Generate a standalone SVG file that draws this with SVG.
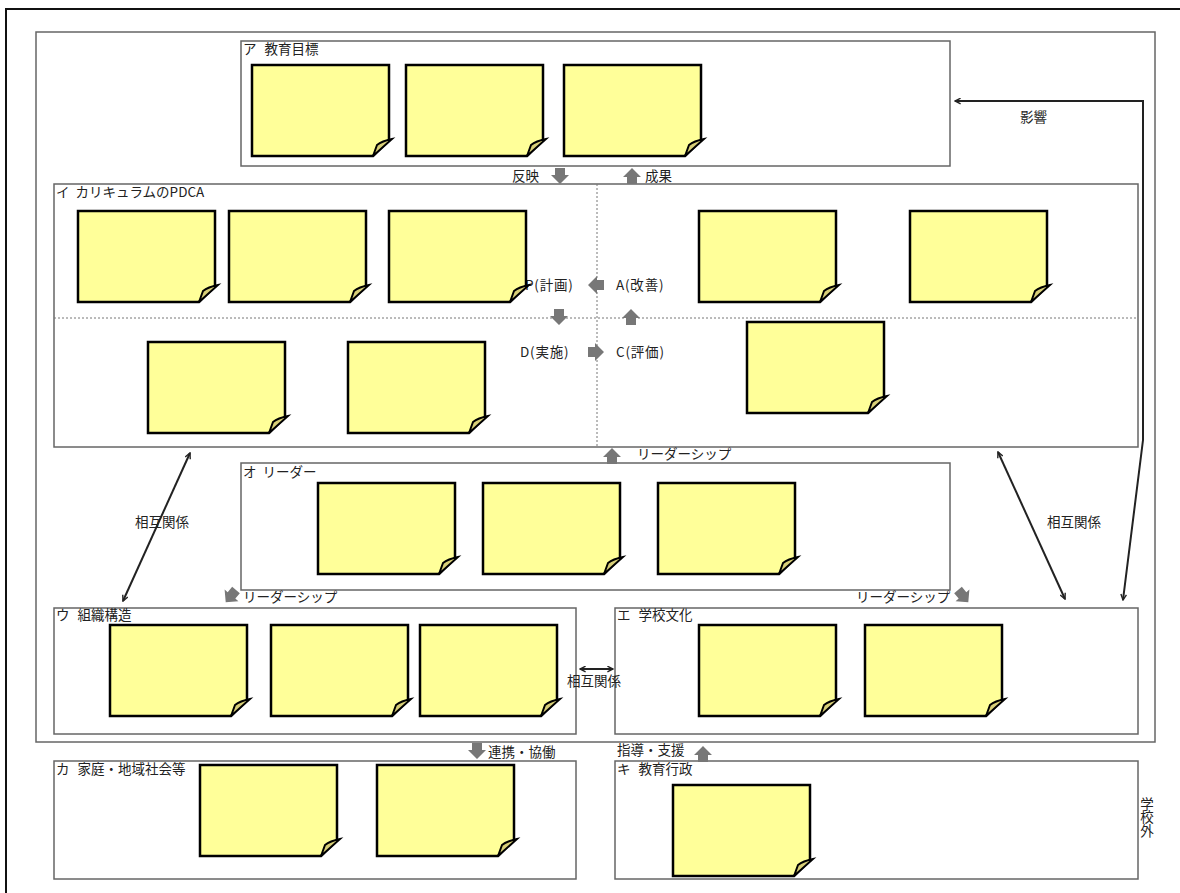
<svg xmlns="http://www.w3.org/2000/svg" xmlns:xlink="http://www.w3.org/1999/xlink" width="1180" height="893" viewBox="0 0 1180 893">
<style>
text{font-family:"Noto Sans CJK JP","Noto Sans",sans-serif;font-size:13.5px;fill:#222}
.box{fill:none;stroke:#666;stroke-width:1.5}
.dot{stroke:#777;stroke-width:1;stroke-dasharray:2 2;fill:none}
.conn{stroke:#222;stroke-width:2;fill:none}
.garr{fill:#777}
</style>
<defs>
<g id="sticky">
<path d="M0,0 H137 V75 L121,91 H0 Z" fill="#FFFF99" stroke="#000" stroke-width="2.5" stroke-linejoin="miter"/>
<path d="M121,91 L125,80 Q130,76 140,74 Z" fill="#D8CF78" stroke="#000" stroke-width="2"/>
</g>
<polygon id="adown" points="-5,0 5,0 5,7 9,7 0,16 -9,7 -5,7"/>
<marker id="ah" viewBox="0 0 10 10" refX="9" refY="5" markerWidth="7" markerHeight="7" orient="auto-start-reverse" markerUnits="userSpaceOnUse">
<path d="M1,1 L9,5 L1,9" fill="none" stroke="#222" stroke-width="2"/>
</marker>
</defs>

<rect x="6" y="9" width="1180" height="900" fill="#fff" stroke="#111" stroke-width="2"/>
<rect id="school" x="36" y="32" width="1119" height="710" class="box"/>

<g id="node-a">
<rect x="241" y="41" width="709" height="125" class="box"/>
<text x="243" y="54">ア<tspan dx="8">教育目標</tspan></text>
<use xlink:href="#sticky" x="252" y="65"/>
<use xlink:href="#sticky" x="406" y="65"/>
<use xlink:href="#sticky" x="564" y="65"/>
</g>

<g id="node-i">
<rect x="54" y="184" width="1084" height="263" class="box"/>
<line x1="597" y1="184" x2="597" y2="447" class="dot"/>
<line x1="54" y1="318" x2="1138" y2="318" class="dot"/>
<text x="56" y="197">イ<tspan dx="6">カリキュラムのPDCA</tspan></text>
<text x="525" y="290" letter-spacing="0.8">P(計画)</text>
<text x="616" y="290" letter-spacing="0.8">A(改善)</text>
<text x="520" y="357" letter-spacing="0.8">D(実施)</text>
<text x="616" y="357" letter-spacing="0.8">C(評価)</text>
<use xlink:href="#adown" class="garr" transform="translate(604,285) rotate(90)"/>
<use xlink:href="#adown" class="garr" transform="translate(559,309)"/>
<use xlink:href="#adown" class="garr" transform="translate(631,325) rotate(180)"/>
<use xlink:href="#adown" class="garr" transform="translate(588,352) rotate(-90)"/>
<use xlink:href="#sticky" x="78" y="211"/>
<use xlink:href="#sticky" x="229" y="211"/>
<use xlink:href="#sticky" x="389" y="211"/>
<use xlink:href="#sticky" x="699" y="211"/>
<use xlink:href="#sticky" x="910" y="211"/>
<use xlink:href="#sticky" x="148" y="342"/>
<use xlink:href="#sticky" x="348" y="342"/>
<use xlink:href="#sticky" x="747" y="322"/>
</g>

<g id="node-o">
<rect x="241" y="463" width="709" height="127" class="box"/>
<text x="243" y="477">オ<tspan dx="6">リーダー</tspan></text>
<use xlink:href="#sticky" x="318" y="483"/>
<use xlink:href="#sticky" x="483" y="483"/>
<use xlink:href="#sticky" x="658" y="483"/>
</g>

<g id="node-u">
<rect x="54" y="608" width="522" height="126" class="box"/>
<text x="56" y="620">ウ<tspan dx="8">組織構造</tspan></text>
<use xlink:href="#sticky" x="110" y="625"/>
<use xlink:href="#sticky" x="271" y="625"/>
<use xlink:href="#sticky" x="420" y="625"/>
</g>

<g id="node-e">
<rect x="615" y="608" width="523" height="126" class="box"/>
<text x="617" y="620">エ<tspan dx="8">学校文化</tspan></text>
<use xlink:href="#sticky" x="699" y="625"/>
<use xlink:href="#sticky" x="865" y="625"/>
</g>

<g id="node-ka">
<rect x="54" y="761" width="522" height="118" class="box"/>
<text x="56" y="774">カ<tspan dx="8">家庭・地域社会等</tspan></text>
<use xlink:href="#sticky" x="200" y="765"/>
<use xlink:href="#sticky" x="377" y="765"/>
</g>

<g id="node-ki">
<rect x="615" y="761" width="523" height="118" class="box"/>
<text x="617" y="774">キ<tspan dx="8">教育行政</tspan></text>
<use xlink:href="#sticky" x="673" y="785"/>
</g>

<g id="connectors">
<use xlink:href="#adown" class="garr" transform="translate(560,168)"/>
<text x="512" y="181">反映</text>
<use xlink:href="#adown" class="garr" transform="translate(632,184) rotate(180)"/>
<text x="645" y="181">成果</text>

<use xlink:href="#adown" class="garr" transform="translate(612,464) rotate(180)"/>
<text x="637" y="459">リーダーシップ</text>

<use xlink:href="#adown" class="garr" transform="translate(236,590) rotate(40)"/>
<text x="243" y="602">リーダーシップ</text>
<use xlink:href="#adown" class="garr" transform="translate(958,590) rotate(-40)"/>
<text x="856" y="602">リーダーシップ</text>

<line x1="190" y1="453" x2="123" y2="601" class="conn" marker-start="url(#ah)" marker-end="url(#ah)"/>
<text x="135" y="527">相互関係</text>
<line x1="998" y1="452" x2="1065" y2="599" class="conn" marker-start="url(#ah)" marker-end="url(#ah)"/>
<text x="1047" y="527">相互関係</text>
<line x1="580" y1="669" x2="613" y2="669" class="conn" marker-start="url(#ah)" marker-end="url(#ah)"/>
<text x="567" y="686">相互関係</text>

<path d="M955,101 L1143,101 L1143,440 L1123,600" class="conn" marker-start="url(#ah)" marker-end="url(#ah)"/>
<text x="1020" y="122">影響</text>

<use xlink:href="#adown" class="garr" transform="translate(477,743)"/>
<text x="488" y="757">連携・協働</text>
<text x="617" y="755">指導・支援</text>
<use xlink:href="#adown" class="garr" transform="translate(703,762) rotate(180)"/>

<text x="1147" y="797" writing-mode="vertical-rl" style="writing-mode:vertical-rl">学校外</text>
</g>
</svg>
